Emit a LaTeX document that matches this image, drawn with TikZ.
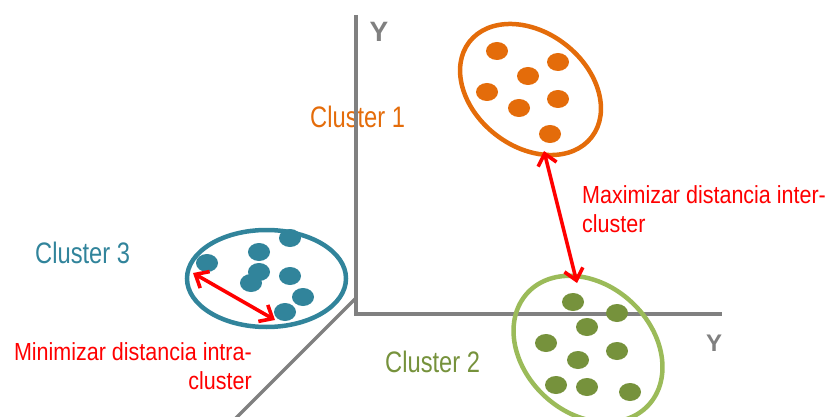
\documentclass[tikz,border=0pt]{standalone}
\usepackage{fontspec}
\setmainfont{Liberation Sans}
\usetikzlibrary{shapes.geometric,arrows.meta}
\definecolor{corange}{HTML}{E46C0A}
\definecolor{cteal}{HTML}{31849B}
\definecolor{cgreen}{HTML}{76923C}
\definecolor{cgreenl}{HTML}{9BBB59}
\definecolor{axisgray}{HTML}{808080}
\definecolor{cred}{HTML}{FF0000}
\newcommand\clusterlab[1]{\scalebox{1}[1.25]{\fontsize{23.7}{28}\selectfont #1}}
\newcommand\redlab[2]{\scalebox{1}[1.15]{\fontsize{21.5}{25.6}\selectfont\begin{tabular}[t]{@{}#1@{}}#2\end{tabular}}}
\begin{document}
\begin{tikzpicture}[x=1pt,y=-1pt,
  axisline/.style={draw=axisgray,line width=3.2pt},
  clus/.style={draw,ellipse,line width=4.5pt,inner sep=0pt},
  pt/.style={ellipse,inner sep=0pt,minimum width=22pt,minimum height=18pt},
  opt/.style={pt,fill=corange},
  tpt/.style={pt,fill=cteal},
  gpt/.style={pt,fill=cgreen},
  dist/.style={draw=cred,line width=3.6pt,
    {Straight Barb[length=11pt,width=19pt]}-{Straight Barb[length=11pt,width=19pt]}},
  lab/.style={anchor=base west,inner sep=0pt},
  ylab/.style={inner sep=0pt,text=axisgray,font=\bfseries}
]
\useasboundingbox (0,0) rectangle (830,417);
% labels
\node[lab,text=corange] (l1) at (310,128) {\clusterlab{Cluster 1}};
\node[lab,text=cteal] (l3) at (35,263) {\clusterlab{Cluster 3}};
\node[lab,text=cgreen] (l2) at (385,372) {\clusterlab{Cluster 2}};
\node[anchor=base west,inner sep=0pt,text=cred] (tmax) at (582,203) {\redlab{l}{Maximizar distancia inter-\\cluster}};
\node[anchor=base east,inner sep=0pt,text=cred] (tmin) at (252,360) {\redlab{r}{Minimizar distancia intra-\\cluster}};
\node[ylab] (yv) at (379,32) {\fontsize{28}{28}\selectfont Y};
\node[ylab] (yh) at (714,343) {\fontsize{24}{24}\selectfont Y};
% axes
\coordinate (ytop) at (356,15);
\coordinate (o) at (356,314);
\coordinate (xend) at (722,314);
\coordinate (ds) at (356,298);
\coordinate (de) at (235,419);
\draw[axisline] (ytop) -- (o) -- (xend);
\draw[axisline] (ds) -- (de);
% clusters
\node[clus,draw=corange,minimum width=155pt,minimum height=114pt,rotate=-38] (c1) at (530.5,89.5) {};
\node[clus,draw=cteal,minimum width=159pt,minimum height=97pt] (c3) at (266.5,278.5) {};
\node[clus,draw=cgreenl,minimum width=165pt,minimum height=128pt,rotate=-43] (c2) at (588,349) {};
% orange points
\node[opt] (o1) at (497,51) {};
\node[opt] (o2) at (558,62) {};
\node[opt] (o3) at (528,76) {};
\node[opt] (o4) at (487,92) {};
\node[opt] (o5) at (558,99) {};
\node[opt] (o6) at (519,108) {};
\node[opt] (o7) at (550,134) {};
% teal points
\node[tpt] (t1) at (290,238) {};
\node[tpt] (t2) at (259,252) {};
\node[tpt] (t3) at (207,263) {};
\node[tpt] (t4) at (259,272) {};
\node[tpt] (t5) at (290,276) {};
\node[tpt] (t6) at (251,283) {};
\node[tpt] (t7) at (303,297) {};
\node[tpt] (t8) at (285,312) {};
% green points
\node[gpt] (g1) at (573,302) {};
\node[gpt] (g2) at (617,313) {};
\node[gpt] (g3) at (587,327) {};
\node[gpt] (g4) at (546,343) {};
\node[gpt] (g5) at (617,351) {};
\node[gpt] (g6) at (578,360) {};
\node[gpt] (g7) at (556,385) {};
\node[gpt] (g8) at (587,387) {};
\node[gpt] (g9) at (630,392) {};
% distance arrows
\coordinate (a1) at (193,273);
\coordinate (a2) at (275,320);
\draw[dist] (a1) -- (a2);
\coordinate (b1) at (544,151);
\coordinate (b2) at (577,283);
\draw[dist] (b1) -- (b2);
\end{tikzpicture}
\end{document}
